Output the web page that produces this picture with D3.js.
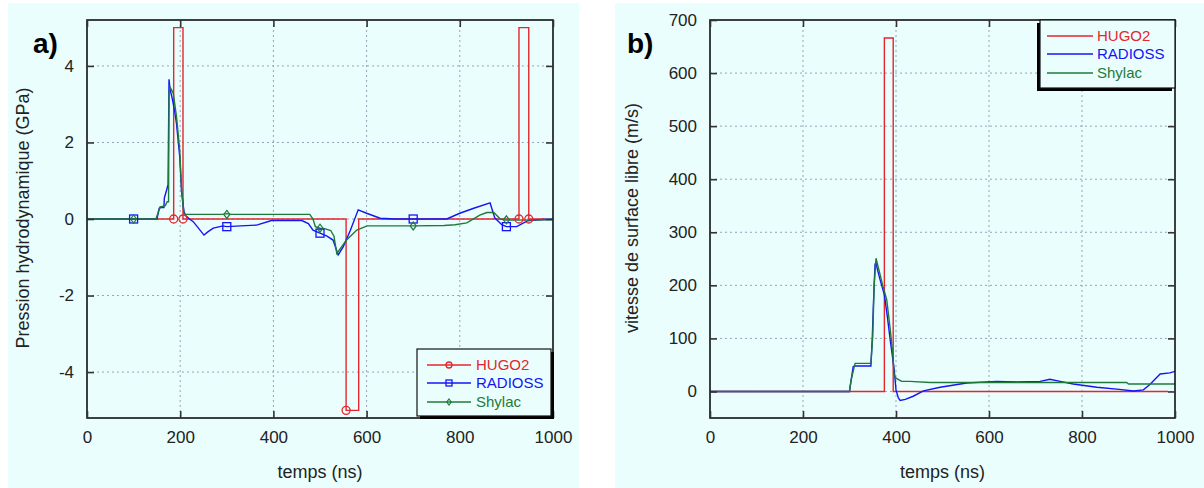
<!DOCTYPE html>
<html>
<head>
<meta charset="utf-8">
<script src="https://cdn.jsdelivr.net/npm/d3@7"></script>
<style>
  html, body { margin: 0; padding: 0; background: #ffffff; }
  svg { display: block; font-family: "Liberation Sans", Arial, sans-serif; }
</style>
</head>
<body>
<svg id="chart" width="1204" height="488"></svg>
<script>
// ---------- DATA ----------
const seriesNames = ["HUGO2", "RADIOSS", "Shylac"];
const xTicks = [0, 200, 400, 600, 800, 1000];
const yTicksA = [-4, -2, 0, 2, 4];
const yTicksB = [0, 100, 200, 300, 400, 500, 600, 700];

// Panel a) : pression hydrodynamique (GPa) vs temps (ns)
const hugoTimeA = [0, 186, 186, 206, 206, 556, 556, 583, 583, 927, 927, 948, 948, 985];
const hugoValA  = [0, 0, 5, 5, 0, 0, -5, -5, 0, 0, 5, 5, 0, 0];
const hugoMarkTimeA = [186, 206, 556, 927, 948];
const hugoMarkValA  = [0, 0, -5, 0, 0];

const radTimeA = [0, 150, 155, 158, 165, 166, 170, 174, 176, 178, 182, 187, 192, 196, 199, 203, 208, 211, 220, 228, 240, 251, 260, 271, 292, 300, 330, 364, 396, 420, 461, 475, 485, 500, 515, 528, 539, 550, 565, 582, 600, 629, 660, 700, 740, 772, 800, 830, 865, 875, 890, 900, 922, 945, 970, 1000];
const radValA  = [0, 0, 0.28, 0.3, 0.3, 0.55, 0.72, 0.9, 3.65, 3.4, 3.2, 2.9, 2.5, 2.0, 1.63, 0.71, 0.2, 0.1, 0.0, -0.07, -0.25, -0.42, -0.33, -0.24, -0.18, -0.2, -0.18, -0.16, -0.04, -0.04, -0.04, -0.12, -0.29, -0.37, -0.45, -0.55, -0.94, -0.72, -0.3, 0.24, 0.15, 0.02, 0, 0, 0, 0, 0.15, 0.28, 0.42, 0.03, -0.15, -0.2, -0.2, -0.05, -0.02, 0];
const radMarkTimeA = [100, 300, 500, 700, 900];
const radMarkValA  = [0, -0.2, -0.37, 0, -0.2];

const shyTimeA = [0, 148, 157, 160, 168, 172, 175, 176, 178, 185, 192, 199, 203, 208, 212, 290, 300, 310, 478, 485, 490, 500, 510, 523, 530, 536, 545, 557, 579, 601, 700, 766, 790, 815, 843, 858, 873, 887, 900, 916, 1000];
const shyValA  = [0, 0, 0.32, 0.32, 0.35, 0.45, 0.45, 3.3, 3.45, 3.29, 2.68, 1.8, 0.76, 0.15, 0.12, 0.12, 0.14, 0.12, 0.12, 0.0, -0.2, -0.24, -0.25, -0.3, -0.45, -0.9, -0.75, -0.55, -0.29, -0.18, -0.18, -0.17, -0.15, -0.1, 0.1, 0.17, 0.17, 0.0, -0.03, -0.03, -0.02];
const shyMarkTimeA = [100, 300, 500, 700, 900];
const shyMarkValA  = [0, 0.12, -0.24, -0.18, -0.02];

// Panel b) : vitesse de surface libre (m/s) vs temps (ns)
const hugoTimeB = [0, 375, 375, 394, 394, 985];
const hugoValB  = [0, 0, 666, 666, 0, 0];

const radTimeB = [0, 300, 305, 308, 312, 346, 349, 351, 353, 355, 357, 360, 365, 375, 381, 388, 396, 400, 405, 409, 420, 437, 459, 495, 552, 617, 660, 710, 731, 753, 781, 832, 880, 911, 932, 946, 968, 989, 1000];
const radValB  = [0, 0, 30, 47, 48, 48, 100, 154, 200, 240, 242, 230, 213, 182, 144, 94, 42, 3, -12, -17, -15, -9, 1, 8, 16, 19, 18, 19, 23, 19, 14, 8, 4, 1, 3, 13, 33, 35, 38];

const shyTimeB = [0, 300, 303, 312, 346, 350, 353, 357, 365, 372, 380, 387, 393, 396, 400, 412, 430, 473, 896, 900, 1000];
const shyValB  = [0, 0, 20, 53, 53, 104, 200, 251, 223, 198, 173, 122, 72, 31, 25, 19, 19, 17, 17, 14, 14];

// ---------- STYLE ----------
const colors = { HUGO2: "#e5262e", RADIOSS: "#1414f5", Shylac: "#1f7a3a" };
const bg = "#eafefe";
const svg = d3.select("#chart");

// panel backgrounds
svg.append("rect").attr("x", 8).attr("y", 3).attr("width", 571).attr("height", 485).attr("fill", bg);
svg.append("rect").attr("x", 615).attr("y", 3).attr("width", 589).attr("height", 485).attr("fill", bg);

function zip(t, v) { return t.map((d, i) => [d, v[i]]); }

function drawPanel(cfg) {
  const x = d3.scaleLinear().domain([0, 1000]).range([cfg.x0, cfg.x1]);
  const y = d3.scaleLinear().domain(cfg.yDomain).range([cfg.y1, cfg.y0]);
  const g = svg.append("g");
  const W = cfg.x1 - cfg.x0, H = cfg.y1 - cfg.y0;

  // grid
  g.selectAll(".gx").data(cfg.xTicks.filter(d => d > 0 && d < 1000)).join("line")
    .attr("x1", d => x(d)).attr("x2", d => x(d)).attr("y1", cfg.y0).attr("y2", cfg.y1)
    .attr("stroke", "#98a2b8").attr("stroke-width", 1).attr("stroke-dasharray", "2,3");
  g.selectAll(".gy").data(cfg.yTicks.filter(d => y(d) > cfg.y0 + 1 && y(d) < cfg.y1 - 1)).join("line")
    .attr("x1", cfg.x0).attr("x2", cfg.x1).attr("y1", d => y(d)).attr("y2", d => y(d))
    .attr("stroke", "#98a2b8").attr("stroke-width", 1).attr("stroke-dasharray", "2,3");

  const line = d3.line().x(d => x(d[0])).y(d => y(d[1]));
  const clip = "clip" + cfg.id;
  svg.append("clipPath").attr("id", clip).append("rect")
    .attr("x", cfg.x0).attr("y", cfg.y0).attr("width", W).attr("height", H);
  const pg = g.append("g").attr("clip-path", `url(#${clip})`);

  cfg.series.forEach(s => {
    pg.append("path").datum(zip(s.t, s.v)).attr("d", line)
      .attr("fill", "none").attr("stroke", colors[s.name]).attr("stroke-width", 1.4)
      .attr("stroke-linejoin", "miter");
  });
  // markers
  cfg.series.forEach(s => {
    if (!s.mt) return;
    const pts = zip(s.mt, s.mv);
    drawMarkers(pg, pts.map(p => [x(p[0]), y(p[1])]), s.name, 1);
  });

  // frame
  g.append("rect").attr("x", cfg.x0).attr("y", cfg.y0).attr("width", W).attr("height", H)
    .attr("fill", "none").attr("stroke", "#111").attr("stroke-width", 1.6);

  // axes with inward ticks
  const ax = g.append("g").attr("transform", `translate(0,${cfg.y1})`)
    .call(d3.axisBottom(x).tickValues(cfg.xTicks).tickSize(-7).tickPadding(13).tickFormat(d3.format("d")));
  const ay = g.append("g").attr("transform", `translate(${cfg.x0},0)`)
    .call(d3.axisLeft(y).tickValues(cfg.yTicks).tickSize(-7).tickPadding(13).tickFormat(d => d < 0 ? "-" + Math.abs(d) : String(d)));
  const at = g.append("g").attr("transform", `translate(0,${cfg.y0})`)
    .call(d3.axisTop(x).tickValues(cfg.xTicks).tickSize(-7).tickFormat(""));
  const ar = g.append("g").attr("transform", `translate(${cfg.x1},0)`)
    .call(d3.axisRight(y).tickValues(cfg.yTicks).tickSize(-7).tickFormat(""));
  [ax, ay, at, ar].forEach(a => {
    a.select(".domain").remove();
    a.selectAll(".tick line").attr("stroke", "#333").attr("stroke-width", 1.6);
    a.selectAll(".tick text").attr("fill", "#222").style("font-size", "17px")
      .style("font-family", "'Liberation Sans', Arial, sans-serif");
  });

  // axis titles
  g.append("text").attr("x", (cfg.x0 + cfg.x1) / 2).attr("y", 478).attr("text-anchor", "middle")
    .attr("fill", "#222").style("font-size", "18px").text("temps (ns)");
  g.append("text").attr("transform", `translate(${cfg.ylabX},${cfg.ylabY}) rotate(-90)`)
    .attr("text-anchor", "middle").attr("fill", "#222").style("font-size", "18px").text(cfg.ylab);

  // panel letter
  g.append("text").attr("x", cfg.letterX).attr("y", 53).attr("fill", "#000")
    .style("font-size", "28px").style("font-weight", "bold").text(cfg.letter);

  // legend
  const L = cfg.legend;
  g.append("rect").attr("x", L.x + L.sx).attr("y", L.y + L.sy).attr("width", L.w).attr("height", L.h).attr("fill", "#000");
  g.append("rect").attr("x", L.x).attr("y", L.y).attr("width", L.w).attr("height", L.h)
    .attr("fill", bg).attr("stroke", "#111").attr("stroke-width", 1.2);
  seriesNames.forEach((name, i) => {
    const yy = L.rowY[i];
    g.append("line").attr("x1", L.lx0).attr("x2", L.lx1).attr("y1", yy).attr("y2", yy)
      .attr("stroke", colors[name]).attr("stroke-width", 1.4);
    if (L.markers) drawMarkers(g, [[(L.lx0 + L.lx1) / 2, yy]], name, 0.75);
    g.append("text").attr("x", L.tx).attr("y", yy).attr("dy", "0.36em").attr("fill", colors[name])
      .style("font-size", "15px").text(name);
  });
}

function drawMarkers(parent, pts, name, k) {
  const c = colors[name];
  if (name === "HUGO2") {
    parent.selectAll(null).data(pts).join("circle")
      .attr("cx", d => d[0]).attr("cy", d => d[1]).attr("r", 4 * k)
      .attr("fill", "none").attr("stroke", c).attr("stroke-width", 1.3);
  } else if (name === "RADIOSS") {
    const s = 8 * k;
    parent.selectAll(null).data(pts).join("rect")
      .attr("x", d => d[0] - s / 2).attr("y", d => d[1] - s / 2).attr("width", s).attr("height", s)
      .attr("fill", "none").attr("stroke", c).attr("stroke-width", 1.3);
  } else {
    const w = 3 * k, h = 4 * k;
    parent.selectAll(null).data(pts).join("path")
      .attr("d", d => `M${d[0]},${d[1] - h}L${d[0] + w},${d[1]}L${d[0]},${d[1] + h}L${d[0] - w},${d[1]}Z`)
      .attr("fill", "none").attr("stroke", c).attr("stroke-width", 1.2);
  }
}

drawPanel({
  id: "a", x0: 87, x1: 553, y0: 20, y1: 418, yDomain: [-5.2, 5.2],
  xTicks: xTicks, yTicks: yTicksA,
  ylab: "Pression hydrodynamique (GPa)", ylabX: 29, ylabY: 218,
  letter: "a)", letterX: 33,
  series: [
    { name: "HUGO2", t: hugoTimeA, v: hugoValA, mt: hugoMarkTimeA, mv: hugoMarkValA },
    { name: "RADIOSS", t: radTimeA, v: radValA, mt: radMarkTimeA, mv: radMarkValA },
    { name: "Shylac", t: shyTimeA, v: shyValA, mt: shyMarkTimeA, mv: shyMarkValA }
  ],
  legend: { x: 417, y: 349, w: 134, h: 67, sx: 3, sy: 3, lx0: 427, lx1: 471, tx: 476,
            rowY: [365, 383, 402], markers: true }
});

drawPanel({
  id: "b", x0: 710, x1: 1175, y0: 20, y1: 418, yDomain: [-50, 700],
  xTicks: xTicks, yTicks: yTicksB,
  ylab: "vitesse de surface libre (m/s)", ylabX: 638, ylabY: 218,
  letter: "b)", letterX: 627,
  series: [
    { name: "HUGO2", t: hugoTimeB, v: hugoValB },
    { name: "RADIOSS", t: radTimeB, v: radValB },
    { name: "Shylac", t: shyTimeB, v: shyValB }
  ],
  legend: { x: 1040, y: 20, w: 135, h: 68, sx: -3, sy: 3, lx0: 1047, lx1: 1093, tx: 1097,
            rowY: [36, 54, 73], markers: false }
});
</script>
</body>
</html>
